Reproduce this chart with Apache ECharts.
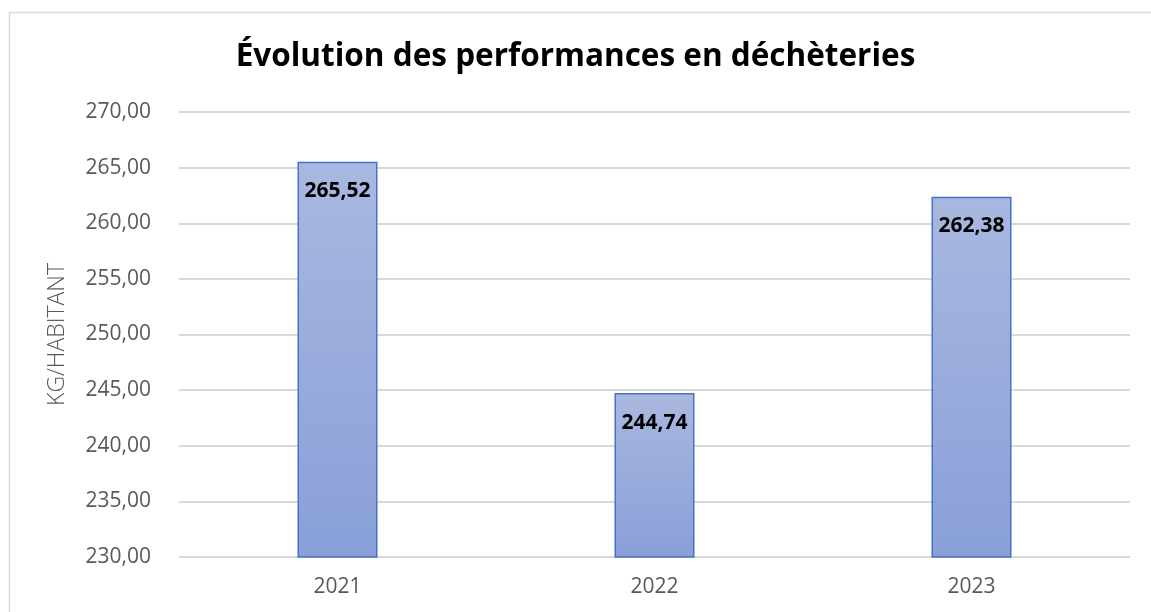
<!DOCTYPE html>
<html>
<head>
<meta charset="utf-8">
<script src="https://cdn.jsdelivr.net/npm/echarts@6/dist/echarts.min.js"></script>
<style>
  html, body { margin: 0; padding: 0; background: #fff; }
  #chart { width: 1151px; height: 612px; }
</style>
</head>
<body>
<div id="chart"></div>
<script>
const years = ['2021', '2022', '2023']
const values = [265.52, 244.74, 262.38]
const yMin = 230
const yMax = 270
const yStep = 5

const fmt = v => v.toFixed(2).replace('.', ',')

const chart = echarts.init(document.getElementById('chart'))
chart.setOption({
  animation: false,
  textStyle: { fontFamily: 'Open Sans' },
  title: {
    text: 'Évolution des performances en déchèteries',
    left: 'center',
    top: 36,
    textStyle: { fontFamily: 'Open Sans', fontWeight: 'bold', fontSize: 31.5, color: '#000' }
  },
  graphic: [{
    type: 'rect',
    shape: { x: 9.5, y: 12.5, width: 1200, height: 700 },
    style: { fill: null, stroke: '#d9d9d9', lineWidth: 1.5 },
    silent: true
  }],
  grid: { left: 179, right: 21, top: 112, bottom: 55 },
  xAxis: {
    type: 'category',
    data: years,
    axisLine: { show: false },
    axisTick: { show: false },
    axisLabel: { color: '#595959', fontSize: 21, margin: 20 }
  },
  yAxis: {
    type: 'value',
    min: yMin,
    max: yMax,
    interval: yStep,
    name: 'KG/HABITANT',
    nameLocation: 'middle',
    nameGap: 110,
    nameTextStyle: { color: '#595959', fontSize: 23, fontWeight: 300 },
    axisLine: { show: false },
    axisTick: { show: false },
    axisLabel: { color: '#595959', fontSize: 21, margin: 28, formatter: v => fmt(v) },
    splitLine: { lineStyle: { color: '#d9d9d9', width: 2 } }
  },
  series: [{
    type: 'bar',
    data: values,
    barWidth: 80,
    itemStyle: {
      color: new echarts.graphic.LinearGradient(0, 0, 0, 1, [
        { offset: 0, color: '#a9b8e0' },
        { offset: 1, color: '#889fd8' }
      ]),
      borderColor: '#4472c4',
      borderWidth: 1.5
    },
    label: {
      show: true,
      position: 'insideTop',
      distance: 19,
      color: '#000',
      fontWeight: 'bold',
      fontSize: 21,
      formatter: p => fmt(p.value)
    }
  }]
})
</script>
</body>
</html>
